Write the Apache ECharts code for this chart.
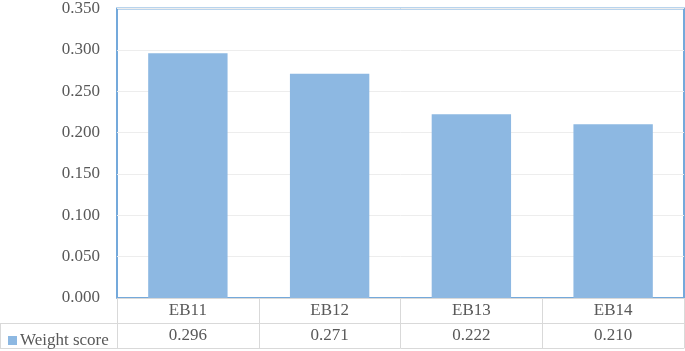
<!DOCTYPE html>
<html><head><meta charset="utf-8">
<script src="https://cdn.jsdelivr.net/npm/echarts@6/dist/echarts.min.js"></script>
<style>html,body{margin:0;padding:0;background:#fff}#c{width:685px;height:351px}</style>
</head><body><div id="c"></div>
<script>
const categories = ['EB11', 'EB12', 'EB13', 'EB14'];
const weightScore = [0.296, 0.271, 0.222, 0.210];
const seriesName = 'Weight score';
const yMin = 0, yMax = 0.35, yStep = 0.05;

const FONT = 'Liberation Serif';
const TXT = '#595959';
const LINE = '#D9D9D9';
const chart = echarts.init(document.getElementById('c'));
const gridL = 117, gridR = 1, gridT = 6, gridB = 53;
const lbl = { fontFamily: FONT, fontSize: 17, color: TXT };
chart.setOption({
  animation: false,
  textStyle: { fontFamily: FONT, fontSize: 17, color: TXT },
  legend: {
    data: [seriesName], left: 3, top: 327, icon: 'rect', itemWidth: 9, itemHeight: 9, itemGap: 4,
    textStyle: { fontFamily: FONT, fontSize: 17, color: TXT, padding: [0,0,0,-2] }
  },
  grid: { left: gridL, right: gridR, top: gridT, bottom: gridB, show: true, borderColor: '#74A9DB', borderWidth: 2 },
  xAxis: [
    { type: 'category', data: categories, position: 'bottom',
      axisLine: { lineStyle: { color: LINE, width: 1 } },
      axisTick: { show: true, length: 50, lineStyle: { color: LINE } },
      axisLabel: Object.assign({ margin: 4 }, lbl) },
    { type: 'category', data: categories, position: 'bottom', offset: 25,
      axisLine: { lineStyle: { color: LINE, width: 1 } }, axisTick: { show: false },
      axisLabel: Object.assign({ margin: 4, formatter: (v, i) => weightScore[i].toFixed(3) }, lbl) },
    { type: 'category', data: categories, position: 'bottom', offset: 50,
      axisLine: { lineStyle: { color: LINE, width: 1 } }, axisTick: { show: false }, axisLabel: { show: false } }
  ],
  yAxis: {
    type: 'value', min: yMin, max: yMax, interval: yStep,
    axisLine: { show: false }, axisTick: { show: false },
    splitLine: { lineStyle: { color: '#EDEDED', width: 1 } },
    axisLabel: Object.assign({ margin: 17, formatter: v => v.toFixed(3) }, lbl)
  },
  series: [{ name: seriesName, type: 'bar', data: weightScore, barWidth: '56%', itemStyle: { color: '#8DB8E2' } }],
  graphic: [
    { type: 'line', shape: { x1: 0, y1: 323.5, x2: gridL, y2: 323.5 }, style: { stroke: LINE, lineWidth: 1 } },
    { type: 'line', shape: { x1: 0, y1: 348.5, x2: gridL, y2: 348.5 }, style: { stroke: LINE, lineWidth: 1 } },
    { type: 'line', shape: { x1: 0.5, y1: 323, x2: 0.5, y2: 349 }, style: { stroke: LINE, lineWidth: 1 } }
  ]
});
</script></body></html>
